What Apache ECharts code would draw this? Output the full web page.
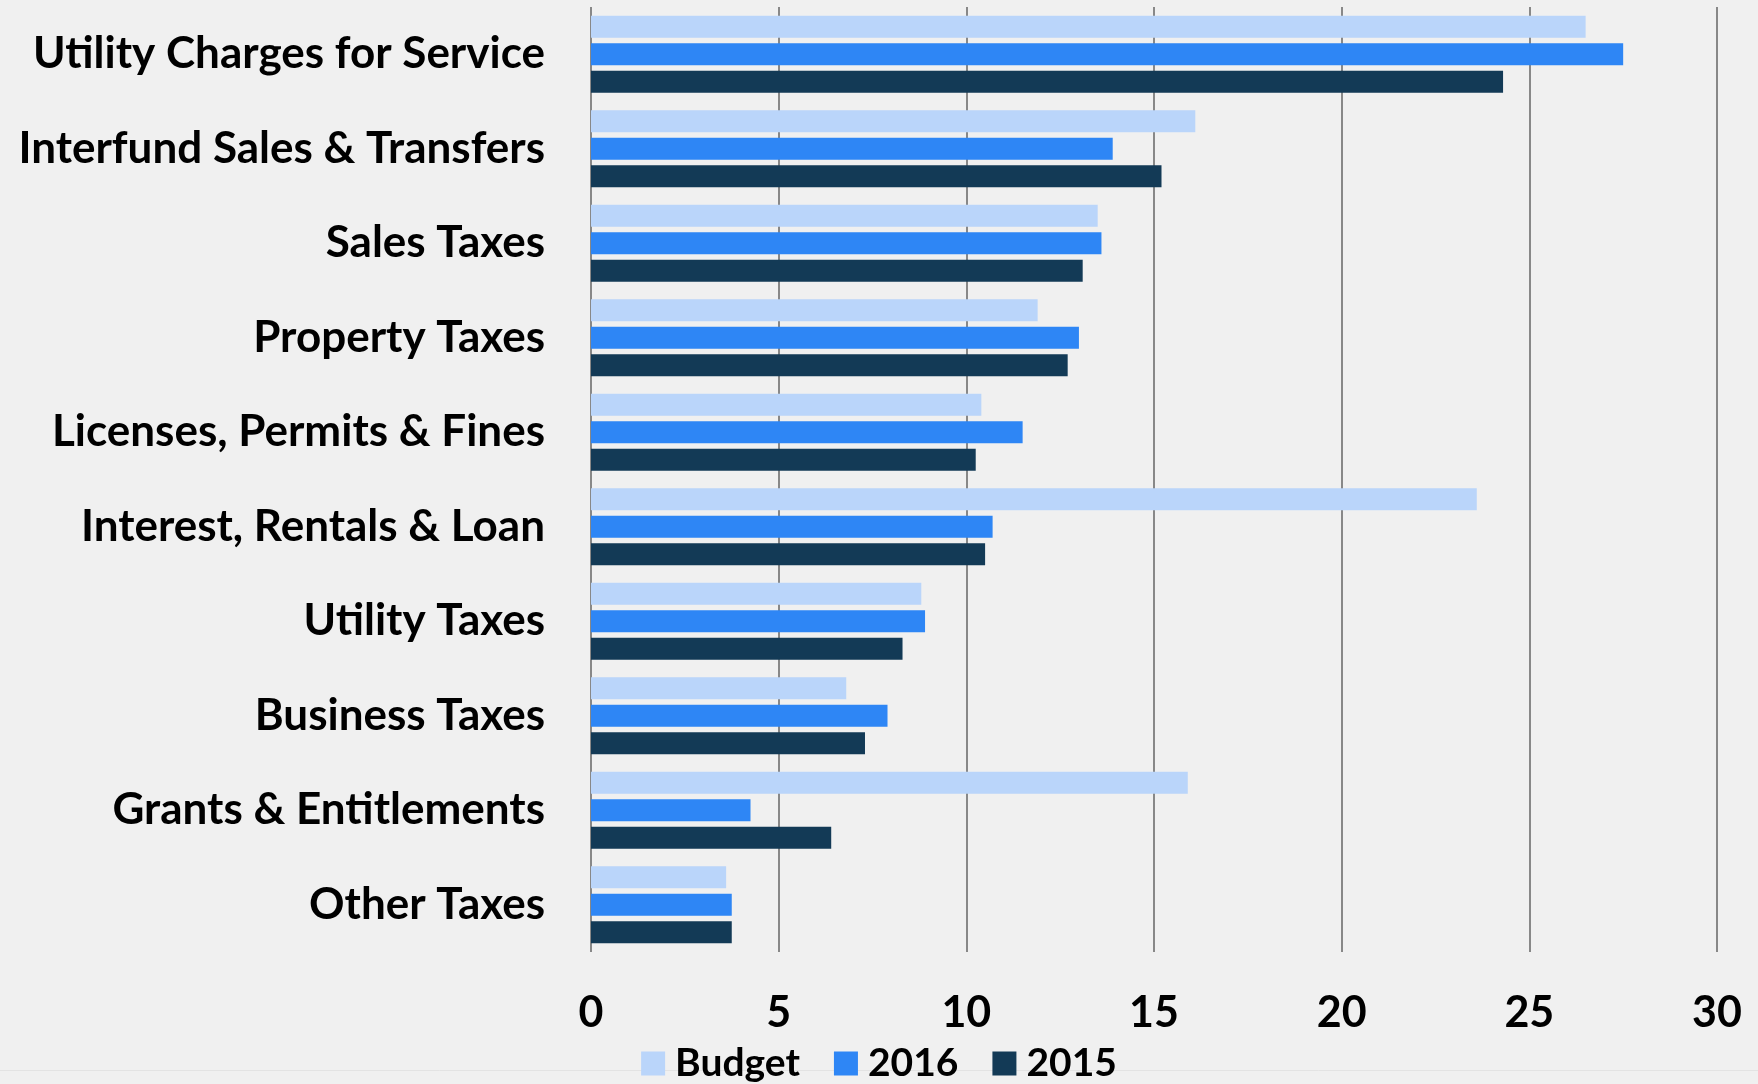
<!DOCTYPE html>
<html>
<head>
<meta charset="utf-8">
<script src="https://cdn.jsdelivr.net/npm/echarts@6/dist/echarts.min.js"></script>
<style>
html,body{margin:0;padding:0;background:#F0F0F0;}
#chart{width:1758px;height:1084px;}
</style>
</head>
<body>
<div id="chart"></div>
<script>
const categories = ['Utility Charges for Service','Interfund Sales & Transfers','Sales Taxes','Property Taxes','Licenses, Permits & Fines','Interest, Rentals & Loan','Utility Taxes','Business Taxes','Grants & Entitlements','Other Taxes'];
const budget = [26.5, 16.1, 13.5, 11.9, 10.4, 23.6, 8.8, 6.8, 15.9, 3.6];
const y2016 = [27.5, 13.9, 13.6, 13.0, 11.5, 10.7, 8.9, 7.9, 4.25, 3.75];
const y2015 = [24.3, 15.2, 13.1, 12.7, 10.25, 10.5, 8.3, 7.3, 6.4, 3.75];
const xTicks = [0,5,10,15,20,25,30];

const FONT = 'Lato';
const chart = echarts.init(document.getElementById('chart'));
chart.setOption({
  backgroundColor: '#F0F0F0',
  animation: false,
  graphic: [{
    type: 'line', silent: true, z: -1,
    shape: {x1: 0, y1: 1070.5, x2: 1758, y2: 1070.5},
    style: {stroke: '#E3E3E3', lineWidth: 1}
  }],
  legend: {
    bottom: -4, left: 'center',
    itemWidth: 24, itemHeight: 24, itemGap: 34,
    icon: 'rect',
    textStyle: {fontFamily: FONT, fontWeight: 'bold', fontSize: 39, color: '#000', padding:[0,0,0,5]},
    data: ['Budget','2016','2015']
  },
  grid: {left: 591, right: 41, top: 7, bottom: 132, containLabel: false},
  xAxis: {
    type: 'value', min: 0, max: 30, interval: 5,
    axisLine: {show: false}, axisTick: {show: false},
    splitLine: {show: true, lineStyle: {color: '#888', width: 2}},
    axisLabel: {fontFamily: FONT, fontWeight: 'bold', fontSize: 43, color: '#000', margin: 40,
      formatter: v => xTicks.includes(v) ? String(v) : ''}
  },
  yAxis: {
    type: 'category', inverse: true, data: categories,
    axisLine: {show: false}, axisTick: {show: false},
    axisLabel: {fontFamily: FONT, fontWeight: 'bold', fontSize: 44, color: '#000', margin: 46}
  },
  series: [
    {name: 'Budget', type: 'bar', data: budget, barWidth: 22, barGap: '25%', itemStyle: {color: '#BAD5FA'}},
    {name: '2016', type: 'bar', data: y2016, barWidth: 22, barGap: '25%', itemStyle: {color: '#2E86F5'}},
    {name: '2015', type: 'bar', data: y2015, barWidth: 22, barGap: '25%', itemStyle: {color: '#133A56'}}
  ]
});
</script>
</body>
</html>
